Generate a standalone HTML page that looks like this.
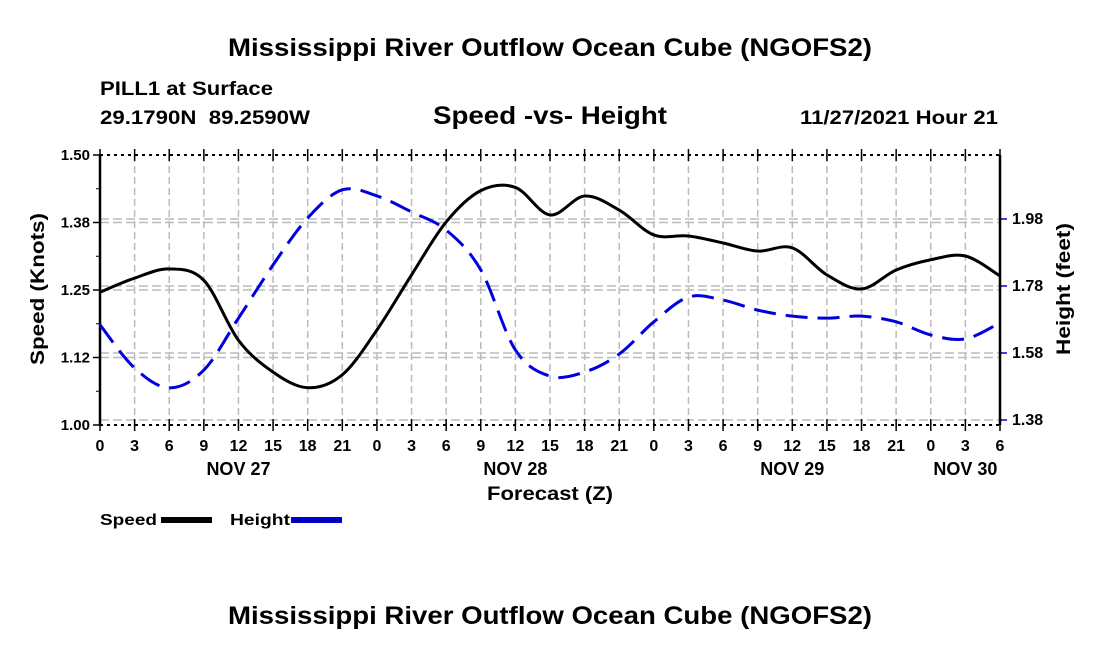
<!DOCTYPE html>
<html><head><meta charset="utf-8"><style>
body{margin:0;background:#fff;}
svg{display:block;font-family:"Liberation Sans",Arial,sans-serif;font-weight:bold;}
</style></head><body>
<svg id="c" width="1100" height="650" viewBox="0 0 1100 650">
<text x="228" y="56" font-size="25" textLength="644" lengthAdjust="spacingAndGlyphs">Mississippi River Outflow Ocean Cube (NGOFS2)</text>
<text x="100" y="95" font-size="19" textLength="173" lengthAdjust="spacingAndGlyphs">PILL1 at Surface</text>
<text x="100" y="124" font-size="19" textLength="210" lengthAdjust="spacingAndGlyphs" xml:space="preserve">29.1790N  89.2590W</text>
<text x="433" y="124" font-size="25" textLength="234" lengthAdjust="spacingAndGlyphs">Speed -vs- Height</text>
<text x="800" y="124" font-size="19" textLength="198" lengthAdjust="spacingAndGlyphs">11/27/2021 Hour 21</text>
<g id="grid"></g>
<g id="axes"></g>
<path id="height-line" fill="none" stroke="#0000dd" stroke-width="3" stroke-dasharray="22,10"/>
<path id="speed-line" fill="none" stroke="#000" stroke-width="3"/>
<text x="487" y="500" font-size="19" textLength="126" lengthAdjust="spacingAndGlyphs">Forecast (Z)</text>
<text transform="translate(44,365) rotate(-90)" font-size="19" textLength="152" lengthAdjust="spacingAndGlyphs">Speed (Knots)</text>
<text transform="translate(1070,355) rotate(-90)" font-size="19" textLength="132" lengthAdjust="spacingAndGlyphs">Height (feet)</text>
<g>
<text x="100" y="525" font-size="16" textLength="57" lengthAdjust="spacingAndGlyphs">Speed</text>
<rect x="161" y="517" width="51" height="6" fill="#000"/>
</g>
<g>
<text x="230" y="525" font-size="16" textLength="60" lengthAdjust="spacingAndGlyphs">Height</text>
<rect x="291" y="517" width="51" height="6" fill="#0000dd"/>
<line x1="293" y1="520" x2="342" y2="520" stroke="#000033" stroke-width="1" stroke-dasharray="8,4"/>
</g>
<text x="228" y="624" font-size="25" textLength="644" lengthAdjust="spacingAndGlyphs">Mississippi River Outflow Ocean Cube (NGOFS2)</text>
</svg>
<script>
const hours=[0,3,6,9,12,15,18,21,24,27,30,33,36,39,42,45,48,51,54,57,60,63,66,69,72,75,78];
const speed=[1.246,1.272,1.289,1.268,1.157,1.098,1.069,1.093,1.176,1.278,1.376,1.434,1.440,1.389,1.424,1.398,1.352,1.35,1.337,1.322,1.328,1.278,1.252,1.287,1.306,1.313,1.276];
const height=[1.664,1.535,1.476,1.529,1.684,1.843,1.983,2.067,2.049,2.001,1.947,1.828,1.589,1.511,1.523,1.577,1.673,1.747,1.738,1.708,1.690,1.684,1.690,1.673,1.634,1.622,1.670];
const xTickLabels=['0','3','6','9','12','15','18','21','0','3','6','9','12','15','18','21','0','3','6','9','12','15','18','21','0','3','6'];
const dayLabels=['NOV 27','NOV 28','NOV 29','NOV 30'];
const dayHours=[12,36,60,75];
const leftTicks=[1.0,1.125,1.25,1.375,1.5];
const leftTickLabels=['1.00','1.12','1.25','1.38','1.50'];
const rightTicks=[1.38,1.58,1.78,1.98];
const rightTickLabels=['1.38','1.58','1.78','1.98'];
const L=100,R=1000,T=155,B=425;
const x=h=>L+h*(R-L)/78;
const yS=v=>B-(v-1.0)/0.5*(B-T);
const yH=v=>420-(v-1.38)/0.2*67;
const NS='http://www.w3.org/2000/svg';
function mk(tag,at,parent){const e=document.createElementNS(NS,tag);for(const k in at)e.setAttribute(k,at[k]);parent.appendChild(e);return e;}
const grid=document.getElementById('grid'),axes=document.getElementById('axes');
hours.forEach((h,i)=>{
 const g=mk('line',{x1:x(h),x2:x(h),y1:T,y2:B,stroke:'#bbb','stroke-width':1.5,'stroke-dasharray':'7,4'},grid);
 
 
 const t=mk('line',{x1:x(h),x2:x(h),y1:B-6,y2:B+6,stroke:'#000','stroke-width':1.5},axes);
 
 
 const t2=mk('line',{x1:x(h),x2:x(h),y1:T-6,y2:T+6,stroke:'#000','stroke-width':1.5},axes);
 
 
 const l=mk('text',{x:x(h),y:451,'font-size':16,'text-anchor':'middle'},axes);
 l.textContent=xTickLabels[i];
 
 
});
dayLabels.forEach((d,i)=>{
 const l=mk('text',{x:x(dayHours[i]),y:475,'font-size':18,'text-anchor':'middle'},axes);
 l.textContent=d;
 
 
});
leftTicks.forEach((v,i)=>{
 const y=yS(v);
 if(i>0&&i<4){const g=mk('line',{x1:L,x2:R,y1:y,y2:y,stroke:'#bbb','stroke-width':1.5,'stroke-dasharray':'9,4'},grid);
 
 }
 const t=mk('line',{x1:L-7,x2:L,y1:y,y2:y,stroke:'#000','stroke-width':1.5},axes);
 
 
 if(i<4){const m=mk('line',{x1:L-4,x2:L,y1:yS(v+0.0625),y2:yS(v+0.0625),stroke:'#000','stroke-width':1},axes);
 
 }
 const l=mk('text',{x:L-10,y:y+5,'font-size':15,'text-anchor':'end'},axes);
 l.textContent=leftTickLabels[i];
 
 
});
rightTicks.forEach((v,i)=>{
 const y=yH(v);
 const g=mk('line',{x1:L,x2:R,y1:y,y2:y,stroke:'#bbb','stroke-width':1.5,'stroke-dasharray':'9,4'},grid);
 
 
 const t=mk('line',{x1:R,x2:R+7,y1:y,y2:y,stroke:'#0000cc','stroke-width':1.5},axes);
 
 
 const l=mk('text',{x:R+12,y:y+5,'font-size':16},axes);
 l.textContent=rightTickLabels[i];
 
 
});
[[L,T,L,B,'left-axis'],[R,T,R,B,'right-axis']].forEach(a=>{
 const e=mk('line',{x1:a[0],y1:a[1],x2:a[2],y2:a[3],stroke:'#000','stroke-width':2.5},axes);
 
 
});
[[T,'top-border'],[B,'bottom-axis']].forEach(a=>{
 const e=mk('line',{x1:L,y1:a[0],x2:R,y2:a[0],stroke:'#000','stroke-width':2,'stroke-dasharray':'3,4'},axes);
 
 
});
function smooth(pts){
 let d='M'+pts[0][0]+','+pts[0][1];
 for(let i=0;i<pts.length-1;i++){
  const p0=pts[Math.max(0,i-1)],p1=pts[i],p2=pts[i+1],p3=pts[Math.min(pts.length-1,i+2)];
  const c1x=p1[0]+(p2[0]-p0[0])/6,c1y=p1[1]+(p2[1]-p0[1])/6;
  const c2x=p2[0]-(p3[0]-p1[0])/6,c2y=p2[1]-(p3[1]-p1[1])/6;
  d+=` C${c1x},${c1y} ${c2x},${c2y} ${p2[0]},${p2[1]}`;
 }
 return d;
}
document.getElementById('speed-line').setAttribute('d',smooth(hours.map((h,i)=>[x(h),yS(speed[i])])));
document.getElementById('height-line').setAttribute('d',smooth(hours.map((h,i)=>[x(h),yH(height[i])])));
</script>
</body></html>
